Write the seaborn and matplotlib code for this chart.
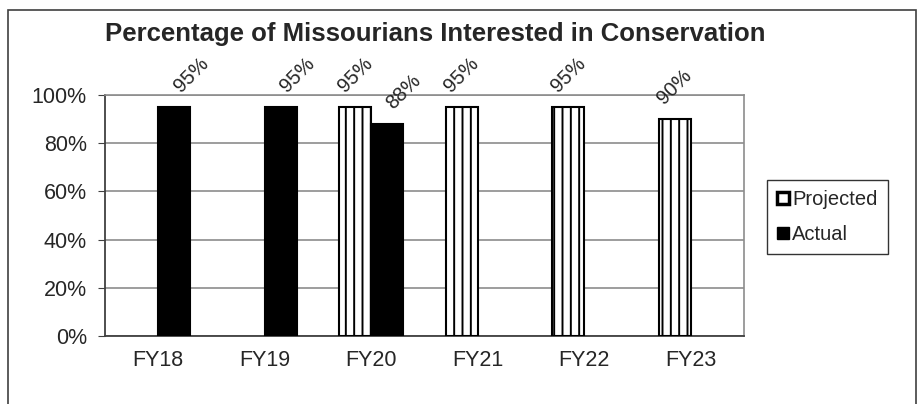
import numpy as np
import pandas as pd
import matplotlib
matplotlib.use('Agg')
import matplotlib.pyplot as plt
import seaborn as sns
from matplotlib.patches import Patch, Rectangle

# values (percent)
years = ['FY18', 'FY19', 'FY20', 'FY21', 'FY22', 'FY23']
projected = [np.nan, np.nan, 95, 95, 95, 90]
actual = [95, 95, 88, np.nan, np.nan, np.nan]
yticks = [0, 20, 40, 60, 80, 100]

df = pd.DataFrame({
    'Year': years * 2,
    'Value': projected + actual,
    'Series': ['Projected'] * len(years) + ['Actual'] * len(years),
})

sns.set_style('white')
plt.rcParams['font.family'] = ['Liberation Sans', 'DejaVu Sans']
plt.rcParams['hatch.linewidth'] = 1.4

fig = plt.figure(figsize=(9.18, 4.04), dpi=100)
ax = fig.add_axes([105 / 918, 68 / 404, 639 / 918, 241 / 404])

sns.barplot(data=df, x='Year', y='Value', hue='Series',
            hue_order=['Projected', 'Actual'], order=years,
            palette={'Projected': 'white', 'Actual': 'black'},
            width=0.6, gap=0, edgecolor='black', linewidth=1.5,
            legend=False, ax=ax, zorder=3)

# projected bars get vertical hatch
for bar in ax.containers[0]:
    bar.set_hatch('||')

# rotated data labels (actual labels sit a bit to the right, as in the original)
for cont, dx in zip(ax.containers, [0, 12]):
    for bar in cont:
        h = bar.get_height()
        if np.isnan(h):
            continue
        xc = bar.get_x() + bar.get_width() / 2
        ax.annotate(f'{h:.0f}%', (xc, h), xytext=(dx, 23), textcoords='offset points',
                    rotation=45, ha='center', va='center', fontsize=14.5,
                    annotation_clip=False)

ax.set_ylim(0, 100)
ax.set_xlim(-0.5, len(years) - 0.5)
ax.set_yticks(yticks)
ax.set_yticklabels([f'{t}%' for t in yticks], fontsize=15.5)
ax.set_xticks(np.arange(len(years)))
ax.set_xticklabels(years, fontsize=15.5)
ax.set_xlabel('')
ax.set_ylabel('')

# x ticks between categories, y ticks outward
ax.set_xticks(np.arange(len(years) + 1) - 0.5, minor=True)
ax.tick_params(axis='x', which='major', length=0, pad=10)
ax.tick_params(axis='x', which='minor', length=5, direction='out', color='#404040')
ax.tick_params(axis='y', length=5, direction='out', color='#404040', pad=8, left=True)

ax.grid(axis='y', color='#8c8c8c', linewidth=1.2, zorder=0)
ax.set_axisbelow(True)
for side in ['top', 'right']:
    ax.spines[side].set_color('#8c8c8c')
    ax.spines[side].set_linewidth(1.2)
for side in ['left', 'bottom']:
    ax.spines[side].set_color('#404040')
    ax.spines[side].set_linewidth(1.3)

fig.text(435 / 918, 1 - 34 / 404, 'Percentage of Missourians Interested in Conservation',
         ha='center', va='center', fontsize=18.5, fontweight='bold')

handles = [Patch(facecolor='white', edgecolor='black', linewidth=2.5),
           Patch(facecolor='black', edgecolor='black')]
leg = fig.legend(handles, ['Projected', 'Actual'], loc='upper left',
                 bbox_to_anchor=(767 / 918, 1 - 180 / 404), borderaxespad=0,
                 fontsize=14.5, handlelength=0.6, handleheight=0.6,
                 handletextpad=0.15, labelspacing=0.8, fancybox=False,
                 borderpad=0.5)
leg.get_frame().set_edgecolor('black')
leg.get_frame().set_linewidth(1.0)

# outer chart frame
fig.patches.append(Rectangle((8 / 918, -0.05), 908 / 918, 1.05 - 10 / 404,
                             transform=fig.transFigure, fill=False,
                             edgecolor='#404040', linewidth=1.2))

fig.savefig('out.png', dpi=100)
